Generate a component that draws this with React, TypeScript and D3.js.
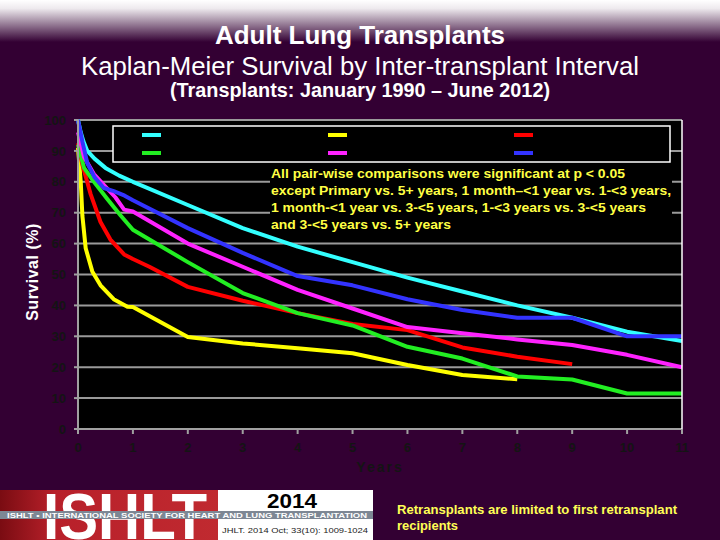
import { useEffect, useRef } from 'react'
import * as d3 from 'd3'

type Pt = [number, number]

// Kaplan-Meier curves, [years, survival %]
const primary: Pt[] = [
  [0, 100], [0.05, 96], [0.1, 93], [0.17, 90], [0.3, 87.5], [0.5, 84.5], [0.75, 82], [1, 80],
  [2, 72.5], [3, 65], [4, 59], [5, 54], [6, 49], [7, 44.5], [8, 40], [9, 36], [10, 31.5], [11, 28.5],
]
const lessThan1Month: Pt[] = [
  [0, 91], [0.05, 80], [0.08, 69], [0.14, 58.5], [0.26, 51], [0.41, 46.5], [0.65, 42], [0.9, 39.6],
  [1, 39.5], [2, 29.8], [3, 27.7], [4, 26.1], [5, 24.5], [6, 20.7], [7, 17.5], [8, 16.1],
]
const month1To1Year: Pt[] = [
  [0, 92.5], [0.08, 85.5], [0.23, 76], [0.41, 67], [0.59, 61.3], [0.84, 56.5], [1, 55], [1.3, 52.5],
  [2, 46], [3, 41.5], [4, 37.5], [5, 34], [6, 32], [7, 26.4], [8, 23.4], [9, 21],
]
const years1To3: Pt[] = [
  [0, 92], [0.11, 84.5], [0.29, 80], [0.53, 74.5], [0.78, 69], [1, 64.5], [2, 54], [3, 44],
  [4, 37.5], [5, 33.5], [6, 26.6], [7, 22.8], [8, 17], [9, 16], [10, 11.5], [11, 11.5],
]
const years3To5: Pt[] = [
  [0, 96], [0.11, 88], [0.29, 82.5], [0.47, 79], [0.68, 75], [0.84, 71], [1, 70.4], [2, 60],
  [3, 52.5], [4, 45], [5, 39], [6, 33], [7, 31], [8, 29], [9, 27.2], [10, 24], [11, 20],
]
const years5Plus: Pt[] = [
  [0, 100], [0.08, 93], [0.17, 86], [0.3, 81.5], [0.47, 78], [0.65, 77], [0.85, 75.5], [1, 74],
  [2, 65], [3, 57], [4, 49.5], [5, 46.5], [6, 42], [7, 38.5], [8, 36], [9, 36], [10, 30], [11, 30],
]

const seriesNames = ['Primary', '0-<1 month', '1 month-<1 year', '1-<3 years', '3-<5 years', '5+ years']
const seriesData = [primary, lessThan1Month, month1To1Year, years1To3, years3To5, years5Plus]
const seriesColors = ['#33ffff', '#ffff00', '#ff0000', '#22ee22', '#ff22ff', '#3333ff']

const xTicks = d3.range(0, 12)
const yTicks = d3.range(0, 101, 10)

const noteLines = [
  'All pair-wise comparisons were significant at p < 0.05',
  'except Primary vs. 5+ years, 1 month–<1 year vs. 1-<3 years,',
  '1 month-<1 year vs. 3-<5 years, 1-<3 years vs. 3-<5 years',
  'and 3-<5 years vs. 5+ years',
]
const noteWidths = [354, 400, 375, 180]

const FONT = '"Liberation Sans", Arial, sans-serif'

export default function App() {
  const svgRef = useRef<SVGSVGElement>(null)

  useEffect(() => {
    const svg = d3.select(svgRef.current)
    svg.selectAll('*').remove()

    const W = 720
    const H = 540
    const margin = { top: 120, right: 38, bottom: 111, left: 78 }
    const x = d3.scaleLinear().domain([0, 11]).range([margin.left, W - margin.right])
    const y = d3.scaleLinear().domain([0, 100]).range([H - margin.bottom, margin.top])

    const defs = svg.append('defs')
    const topGrad = defs.append('linearGradient').attr('id', 'topGrad')
      .attr('x1', 0).attr('x2', 0).attr('y1', 0).attr('y2', 1)
    topGrad.append('stop').attr('offset', '0%').attr('stop-color', '#ffffff')
    topGrad.append('stop').attr('offset', '20%').attr('stop-color', '#eeeaee')
    topGrad.append('stop').attr('offset', '100%').attr('stop-color', '#330033')
    const redGrad = defs.append('linearGradient').attr('id', 'redGrad')
      .attr('x1', 0).attr('x2', 1).attr('y1', 0).attr('y2', 0)
    redGrad.append('stop').attr('offset', '0%').attr('stop-color', '#7a0c12')
    redGrad.append('stop').attr('offset', '25%').attr('stop-color', '#b8202a')
    redGrad.append('stop').attr('offset', '100%').attr('stop-color', '#c02a30')

    // Background
    svg.append('rect').attr('width', W).attr('height', H).attr('fill', '#330033')
    svg.append('rect').attr('width', W).attr('height', 42).attr('fill', 'url(#topGrad)')

    // Titles (condensed like the original)
    const titles = [
      { t: 'Adult Lung Transplants', y: 44, size: 26, w: 290, bold: true },
      { t: 'Kaplan-Meier Survival by Inter-transplant Interval', y: 75, size: 26, w: 558, bold: false },
      { t: '(Transplants: January 1990 – June 2012)', y: 97, size: 20, w: 380, bold: true },
    ]
    titles.forEach((d) => {
      svg.append('text')
        .attr('x', W / 2).attr('y', d.y)
        .attr('text-anchor', 'middle')
        .attr('fill', '#ffffff')
        .attr('textLength', d.w).attr('lengthAdjust', 'spacingAndGlyphs')
        .style('font-family', FONT)
        .style('font-size', `${d.size}px`)
        .style('font-weight', d.bold ? 'bold' : 'normal')
        .text(d.t)
    })

    // Plot area
    const [x0, x1] = x.range()
    const [y0, y1] = y.range()
    svg.append('rect')
      .attr('x', x0).attr('y', y1).attr('width', x1 - x0).attr('height', y0 - y1)
      .attr('fill', '#000000')

    svg.append('g').selectAll('line')
      .data(yTicks.filter((d) => d > 0))
      .enter().append('line')
      .attr('x1', x0).attr('x2', x1)
      .attr('y1', (d) => y(d)).attr('y2', (d) => y(d))
      .attr('stroke', '#9a9a9a').attr('stroke-width', 2)

    // Legend box (labels are not visible in the original)
    const legend = svg.append('g')
    legend.append('rect')
      .attr('x', 113).attr('y', 126).attr('width', 557).attr('height', 36)
      .attr('fill', '#000').attr('stroke', '#ffffff').attr('stroke-width', 1.5)
    seriesNames.forEach((name, i) => {
      const col = i % 3
      const row = Math.floor(i / 3)
      const lx = 142 + col * 186
      const ly = 135 + row * 18
      legend.append('line')
        .attr('x1', lx).attr('x2', lx + 19).attr('y1', ly).attr('y2', ly)
        .attr('stroke', seriesColors[i]).attr('stroke-width', 4)
      legend.append('text')
        .attr('x', lx + 26).attr('y', ly + 4)
        .attr('fill', '#000000')
        .style('font-family', FONT).style('font-size', '11px')
        .text(name)
    })

    // Note box
    svg.append('rect')
      .attr('x', 270).attr('y', 163).attr('width', 402).attr('height', 75)
      .attr('fill', '#000000')
    noteLines.forEach((t, i) => {
      svg.append('text')
        .attr('x', 271).attr('y', 178 + i * 17)
        .attr('fill', '#ffff44')
        .attr('textLength', noteWidths[i]).attr('lengthAdjust', 'spacingAndGlyphs')
        .style('font-family', FONT).style('font-size', '13px').style('font-weight', 'bold')
        .text(t)
    })

    // Curves
    const line = d3.line<Pt>().x((d) => x(d[0])).y((d) => y(d[1]))
    seriesData.forEach((data, i) => {
      svg.append('path')
        .datum(data)
        .attr('fill', 'none')
        .attr('stroke', seriesColors[i])
        .attr('stroke-width', 4)
        .attr('stroke-linejoin', 'round')
        .attr('d', line)
    })

    // Axes
    const axisColor = '#a0a0a0'
    svg.append('line').attr('x1', x0).attr('x2', x0).attr('y1', y1).attr('y2', y0)
      .attr('stroke', axisColor).attr('stroke-width', 2)
    svg.append('line').attr('x1', x0).attr('x2', x1).attr('y1', y0).attr('y2', y0)
      .attr('stroke', axisColor).attr('stroke-width', 2)
    svg.append('line').attr('x1', x1).attr('x2', x1).attr('y1', y1).attr('y2', y0)
      .attr('stroke', '#ffffff').attr('stroke-width', 1.5)

    svg.append('g').selectAll('line')
      .data(yTicks).enter().append('line')
      .attr('x1', x0 - 4).attr('x2', x0)
      .attr('y1', (d) => y(d)).attr('y2', (d) => y(d))
      .attr('stroke', axisColor).attr('stroke-width', 2)
    svg.append('g').selectAll('text')
      .data(yTicks).enter().append('text')
      .attr('x', 66).attr('y', (d) => y(d)).attr('dy', '0.36em')
      .attr('text-anchor', 'end')
      .attr('fill', '#141414')
      .style('font-family', FONT).style('font-size', '13px').style('font-weight', 'bold')
      .text((d) => `${d}`)

    svg.append('g').selectAll('line')
      .data(xTicks).enter().append('line')
      .attr('x1', (d) => x(d)).attr('x2', (d) => x(d))
      .attr('y1', y0).attr('y2', y0 + 5)
      .attr('stroke', axisColor).attr('stroke-width', 2)
    svg.append('g').selectAll('text')
      .data(xTicks).enter().append('text')
      .attr('x', (d) => x(d)).attr('y', 452)
      .attr('text-anchor', 'middle')
      .attr('fill', '#141414')
      .style('font-family', FONT).style('font-size', '13px').style('font-weight', 'bold')
      .text((d) => `${d}`)

    svg.append('text')
      .attr('x', 380).attr('y', 472)
      .attr('text-anchor', 'middle')
      .attr('fill', '#141414')
      .style('font-family', FONT).style('font-size', '14px').style('font-weight', 'bold')
      .style('letter-spacing', '2px')
      .text('Years')

    svg.append('text')
      .attr('transform', 'translate(38,272) rotate(-90)')
      .attr('text-anchor', 'middle')
      .attr('fill', '#ffffff')
      .style('font-family', FONT).style('font-size', '16px').style('font-weight', 'bold')
      .style('letter-spacing', '0.5px')
      .text('Survival (%)')

    // Footer logo
    const logo = svg.append('g')
    logo.append('rect').attr('x', 0).attr('y', 490).attr('width', 218).attr('height', 50)
      .attr('fill', 'url(#redGrad)')
    logo.append('rect').attr('x', 218).attr('y', 490).attr('width', 155).attr('height', 50)
      .attr('fill', '#ffffff')
    logo.append('text')
      .attr('x', 43).attr('y', 539)
      .attr('fill', '#ffffff')
      .attr('textLength', 164).attr('lengthAdjust', 'spacingAndGlyphs')
      .style('font-family', FONT).style('font-size', '64px').style('font-weight', 'bold')
      .text('ISHLT')
    logo.append('rect').attr('x', 0).attr('y', 511).attr('width', 373).attr('height', 8)
      .attr('fill', '#7d8794')
    logo.append('text')
      .attr('x', 7).attr('y', 518)
      .attr('fill', '#ffffff')
      .attr('textLength', 360).attr('lengthAdjust', 'spacingAndGlyphs')
      .style('font-family', FONT).style('font-size', '7.5px').style('font-weight', 'bold')
      .text('ISHLT • INTERNATIONAL SOCIETY FOR HEART AND LUNG TRANSPLANTATION')
    logo.append('text')
      .attr('x', 292).attr('y', 508)
      .attr('text-anchor', 'middle')
      .attr('fill', '#000000')
      .attr('textLength', 50).attr('lengthAdjust', 'spacingAndGlyphs')
      .style('font-family', FONT).style('font-size', '21px').style('font-weight', 'bold')
      .text('2014')
    logo.append('text')
      .attr('x', 222).attr('y', 533)
      .attr('fill', '#222222')
      .attr('textLength', 146).attr('lengthAdjust', 'spacingAndGlyphs')
      .style('font-family', FONT).style('font-size', '8px')
      .text('JHLT. 2014 Oct; 33(10): 1009-1024')

    const foot = ['Retransplants are limited to first retransplant', 'recipients']
    const footW = [280, 61]
    foot.forEach((t, i) => {
      svg.append('text')
        .attr('x', 397).attr('y', 514 + i * 16)
        .attr('fill', '#ffff55')
        .attr('textLength', footW[i]).attr('lengthAdjust', 'spacingAndGlyphs')
        .style('font-family', FONT).style('font-size', '13px').style('font-weight', 'bold')
        .text(t)
    })
  }, [])

  return (
    <svg
      ref={svgRef}
      width={720}
      height={540}
      style={{ position: 'fixed', left: 0, top: 0, display: 'block' }}
    />
  )
}
